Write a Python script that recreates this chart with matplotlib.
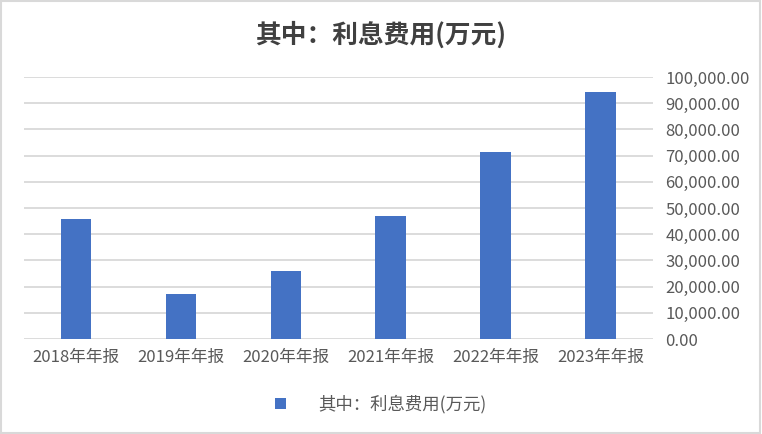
import matplotlib
matplotlib.use('Agg')
import matplotlib.pyplot as plt
from matplotlib.patches import Rectangle
from matplotlib.ticker import FuncFormatter

plt.rcParams['font.family'] = ['Noto Sans CJK SC', 'DejaVu Sans']

# data
years = ['2018年年报', '2019年年报', '2020年年报', '2021年年报', '2022年年报', '2023年年报']
interest = [45800, 17200, 26000, 46900, 71400, 94300]
title = '其中：利息费用(万元)'
series_name = '其中：利息费用(万元)'

text_color = '#595959'
bar_color = '#4472C4'

fig = plt.figure(figsize=(7.62, 4.34), dpi=100)
ax = fig.add_axes([23.5 / 762, 1 - 339 / 434, (653 - 23.5) / 762, (339 - 77) / 434])

x = range(len(years))
ax.bar(x, interest, width=0.29, color=bar_color, label=series_name, zorder=3)

ax.set_xlim(-0.5, len(years) - 0.5)
ax.set_ylim(0, 100000)
ax.set_yticks(range(0, 100001, 10000))
ax.yaxis.set_major_formatter(FuncFormatter(lambda v, p: f'{v:,.2f}'))
ax.yaxis.tick_right()
ax.set_xticks(list(x))
ax.set_xticklabels(years)

ax.grid(axis='y', color='#d9d9d9', linewidth=1.3, zorder=0)
for s in ax.spines.values():
    s.set_visible(False)
ax.tick_params(axis='both', length=0, labelsize=12, labelcolor=text_color)
ax.tick_params(axis='y', pad=9)
ax.tick_params(axis='x', pad=7)

fig.text(0.5, 1 - 35 / 434, title, ha='center', va='center', fontsize=18.5,
         fontweight='bold', color='#404040')

ax.legend(loc='center', bbox_to_anchor=(381 / 762, 1 - 404 / 434), bbox_transform=fig.transFigure,
          frameon=False, fontsize=12.5, labelcolor=text_color, handlelength=0.6, handleheight=0.6,
          handletextpad=1.9)

# light border around the chart
fig.patches.append(Rectangle((0.001, 0.002), 0.997, 0.996, transform=fig.transFigure,
                             fill=False, edgecolor='#d9d9d9', linewidth=1.5))

fig.savefig('out.png', dpi=100)
